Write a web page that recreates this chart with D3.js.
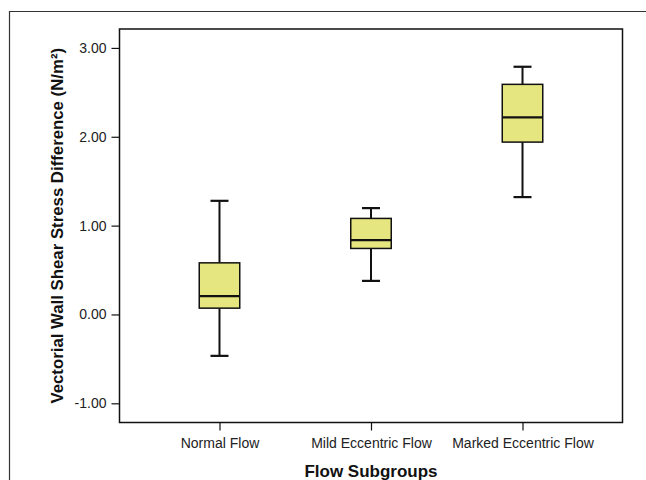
<!DOCTYPE html>
<html>
<head>
<meta charset="utf-8">
<script src="https://cdn.jsdelivr.net/npm/d3@7"></script>
<style>
  html, body { margin: 0; padding: 0; background: #fff; }
  svg { display: block; }
  text { font-family: "Liberation Sans", Arial, Helvetica, sans-serif; }
</style>
</head>
<body>
<svg id="chart" width="646" height="480"></svg>
<script>
// ---- data ----
const categories = ["Normal Flow", "Mild Eccentric Flow", "Marked Eccentric Flow"];
const whiskerLow  = [-0.466, 0.378, 1.321];
const q1Values    = [0.071, 0.743, 1.940];
const medians     = [0.206, 0.837, 2.218];
const q3Values    = [0.581, 1.081, 2.590];
const whiskerHigh = [1.279, 1.197, 2.788];
const yTicks = [-1, 0, 1, 2, 3];
const yTickLabels = ["-1.00", "0.00", "1.00", "2.00", "3.00"];
const yTitle = "Vectorial Wall Shear Stress Difference (N/m²)";
const xTitle = "Flow Subgroups";

const boxes = categories.map((c, i) => ({
  cat: c, lo: whiskerLow[i], q1: q1Values[i], med: medians[i], q3: q3Values[i], hi: whiskerHigh[i]
}));

const svg = d3.select("#chart");
const plot = { left: 119.5, right: 622.5, top: 29, bottom: 422.5 };

// outer frame
svg.append("path")
  .attr("d", `M9.5,480 L9.5,11.5 L646,11.5`)
  .attr("fill", "none").attr("stroke", "#333").attr("stroke-width", 1.2);

const x = d3.scalePoint().domain(categories).range([plot.left, plot.right]).padding(0.66);
const y = d3.scaleLinear().domain([-1.216, 3.213]).range([plot.bottom, plot.top]);

// plot frame
svg.append("rect")
  .attr("x", plot.left).attr("y", plot.top)
  .attr("width", plot.right - plot.left).attr("height", plot.bottom - plot.top)
  .attr("fill", "none").attr("stroke", "#111").attr("stroke-width", 1.5);

// y axis
const yAxis = svg.append("g").attr("transform", `translate(${plot.left},0)`)
  .call(d3.axisLeft(y).tickValues(yTicks).tickFormat((d, i) => yTickLabels[i]).tickSize(8).tickPadding(5));
yAxis.select(".domain").remove();
yAxis.selectAll("line").attr("stroke", "#111").attr("stroke-width", 1.2);
yAxis.selectAll("text").attr("font-size", "14px").attr("fill", "#222")
  .style("font-family", '"Liberation Sans", Arial, sans-serif');

// x axis
const xAxis = svg.append("g").attr("transform", `translate(0,${plot.bottom})`)
  .call(d3.axisBottom(x).tickSize(8).tickPadding(8));
xAxis.select(".domain").remove();
xAxis.selectAll("line").attr("stroke", "#111").attr("stroke-width", 1.2);
xAxis.selectAll("text").attr("font-size", "14px").attr("fill", "#222")
  .style("font-family", '"Liberation Sans", Arial, sans-serif');

// boxes
const boxW = 40.5, capW = 18;
const g = svg.append("g");
boxes.forEach(b => {
  const cx = x(b.cat);
  g.append("line").attr("x1", cx).attr("x2", cx).attr("y1", y(b.q3)).attr("y2", y(b.hi))
    .attr("stroke", "#111").attr("stroke-width", 2);
  g.append("line").attr("x1", cx).attr("x2", cx).attr("y1", y(b.q1)).attr("y2", y(b.lo))
    .attr("stroke", "#111").attr("stroke-width", 2);
  g.append("line").attr("x1", cx - capW / 2).attr("x2", cx + capW / 2).attr("y1", y(b.hi)).attr("y2", y(b.hi))
    .attr("stroke", "#111").attr("stroke-width", 2.2);
  g.append("line").attr("x1", cx - capW / 2).attr("x2", cx + capW / 2).attr("y1", y(b.lo)).attr("y2", y(b.lo))
    .attr("stroke", "#111").attr("stroke-width", 2.2);
  g.append("rect").attr("x", cx - boxW / 2).attr("y", y(b.q3))
    .attr("width", boxW).attr("height", y(b.q1) - y(b.q3))
    .attr("fill", "#e6e680").attr("stroke", "#111").attr("stroke-width", 1.5);
  g.append("line").attr("x1", cx - boxW / 2).attr("x2", cx + boxW / 2).attr("y1", y(b.med)).attr("y2", y(b.med))
    .attr("stroke", "#111").attr("stroke-width", 2.2);
});

// axis titles
svg.append("text")
  .attr("x", (plot.left + plot.right) / 2).attr("y", 476.5)
  .attr("text-anchor", "middle").attr("font-size", "17px").attr("font-weight", "bold").attr("fill", "#111")
  .text(xTitle);

svg.append("text")
  .attr("transform", `translate(63,${(plot.top + plot.bottom) / 2}) rotate(-90)`)
  .attr("text-anchor", "middle").attr("font-size", "16.8px").attr("font-weight", "bold").attr("fill", "#111")
  .text(yTitle);
</script>
</body>
</html>
